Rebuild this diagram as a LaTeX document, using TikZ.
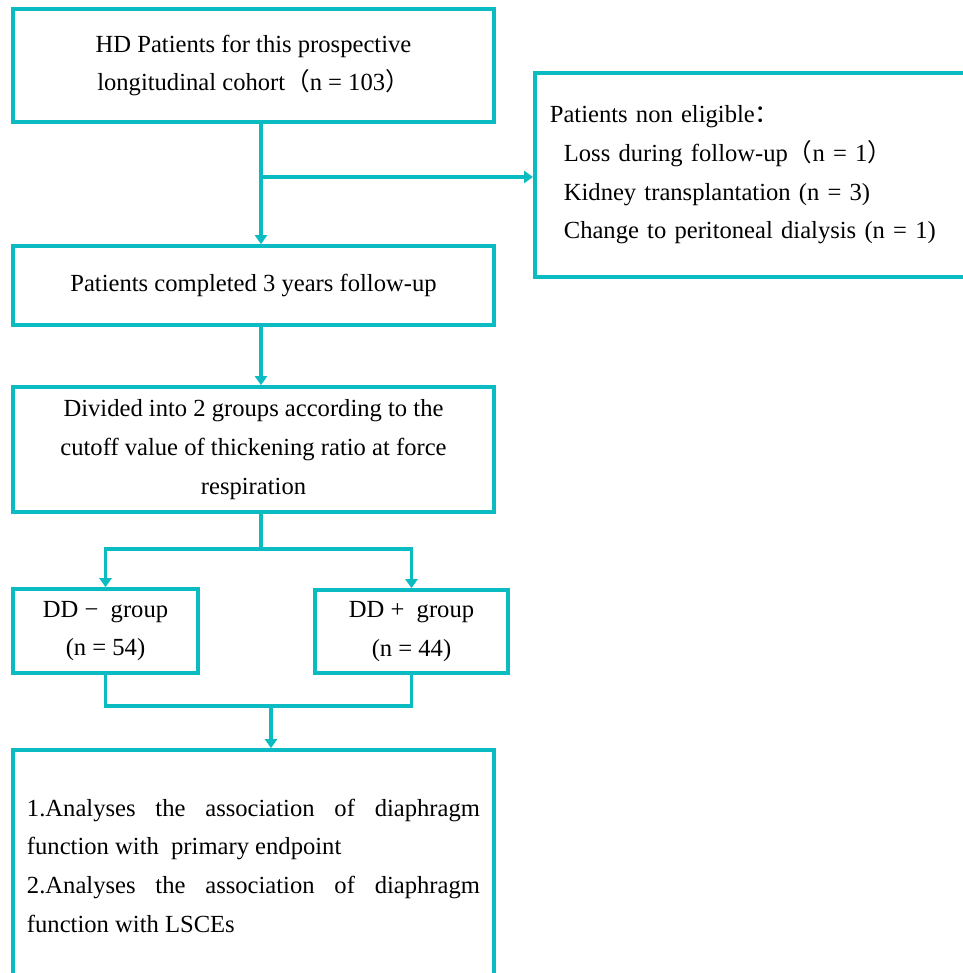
\documentclass[tikz,border=0pt]{standalone}
\usepackage{fontspec}
\setmainfont{Liberation Serif}
\newfontfamily\cjk{Noto Sans CJK SC}
\usetikzlibrary{arrows.meta,positioning}
\definecolor{flowteal}{RGB}{10,188,194}
\begin{document}
\begin{tikzpicture}[
        box/.style={draw=flowteal, line width=2.1pt, rectangle, inner sep=0pt, font=\fontsize{14pt}{22pt}\selectfont},
        link/.style={draw=flowteal, line width=2.1pt},
        arrow/.style={link, -{Triangle[length=0.18cm,width=0.24cm]}},
    ]
    \useasboundingbox (0,0) rectangle (19.26,-19.46);
    \clip (0,0) rectangle (19.26,-19.46);
    \node[box, minimum width=9.62cm, minimum height=2.26cm, align=center] (a) at (5.07,-1.31)
        {HD Patients for this prospective\\longitudinal cohort{\cjk （}n = 103{\cjk ）}};
    \node[box, minimum width=9.62cm, minimum height=1.58cm, align=center] (c) at (5.07,-5.71)
        {Patients completed 3 years follow-up};
    \node[box, minimum width=9.62cm, minimum height=2.5cm, align=center] (d) at (5.07,-8.99)
        {Divided into 2 groups according to the\\cutoff value of thickening ratio at force\\respiration};
    \node[box, anchor=west, minimum height=4.08cm, text width=8.9cm, inner xsep=0.3cm, align=left] (e) at (10.66,-3.5)
        {Patients non eligible{\cjk ：}\\
         \hspace*{0.28cm}Loss during follow-up{\cjk （}n = 1{\cjk ）}\\
         \hspace*{0.28cm}Kidney transplantation (n = 3)\\
         \hspace*{0.28cm}Change to peritoneal dialysis (n = 1)};
    \node[box, minimum width=3.7cm, minimum height=1.68cm, align=center] (f) at (2.11,-12.62)
        {DD −~~group\\(n = 54)};
    \node[box, minimum width=3.86cm, minimum height=1.66cm, align=center] (g) at (8.23,-12.63)
        {DD +~~group\\(n = 44)};
    \node[box, minimum width=9.62cm, minimum height=4.62cm, text width=9.06cm, inner xsep=0.28cm, align=justify] (h) at (5.07,-17.31)
        {1.Analyses the association of diaphragm\linebreak
         function with\ \ primary endpoint\\
         2.Analyses the association of diaphragm\linebreak
         function with LSCEs};
    \coordinate (b) at (5.22,-3.54);
    \coordinate (s) at (5.22,-10.98);
    \coordinate (m) at (5.42,-14.12);
    \draw[arrow] (a.south -| b) -- (c.north -| b);
    \draw[arrow] (b) -- (b -| e.west);
    \draw[arrow] (c.south -| b) -- (d.north -| b);
    \draw[link] (d.south -| s) -- (s);
    \draw[arrow] (s) -| (f.north);
    \draw[arrow] (s) -| (g.north);
    \draw[link] (f.south) |- (g.south |- m) -- (g.south);
    \draw[arrow] (m) -- (h.north -| m);
\end{tikzpicture}
\end{document}
